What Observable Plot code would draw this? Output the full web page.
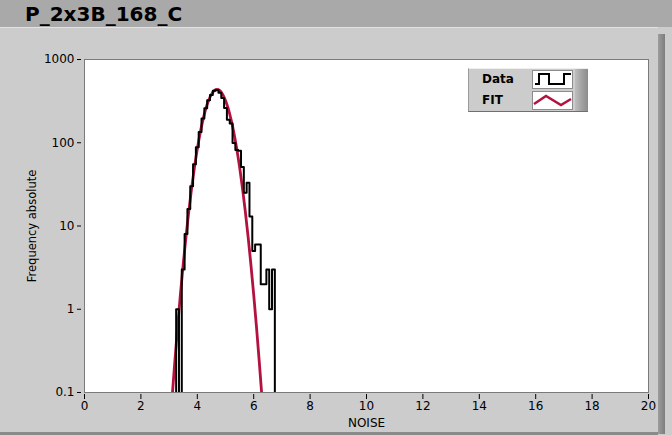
<!DOCTYPE html>
<html>
<head>
<meta charset="utf-8">
<script src="https://cdn.jsdelivr.net/npm/d3@7"></script>
<script src="https://cdn.jsdelivr.net/npm/@observablehq/plot@0.6"></script>
<style>
  html, body { margin: 0; padding: 0; }
  body { width: 672px; height: 435px; position: relative; overflow: hidden; background: #cccccc; font-family: "DejaVu Sans", sans-serif; }
  #titlebar { position: absolute; left: 0; top: 0; width: 672px; height: 27px; background: #a9a9a9; }
  #title { position: absolute; left: 25px; top: 1px; font: bold 20px "DejaVu Sans", sans-serif; color: #000; line-height: 26px; }
  #panel { position: absolute; left: 0; top: 27px; width: 658px; height: 404px; background: #cccccc; border-top: 1px solid #e2e2e2; border-bottom: 3px solid #8a8a8a; }
  #rband { position: absolute; left: 658px; top: 34px; width: 7px; height: 400px; background: linear-gradient(to right, #9c9c9c, #7d7d7d); }
  #chart { position: absolute; left: 0; top: 0; }
  #legend { position: absolute; left: 468px; top: 68px; width: 120px; height: 44px; background: #cccccc;
            box-sizing: border-box; border-top: 1px solid #eeeeee; border-left: 1px solid #9a9a9a; border-bottom: 1px solid #6f6f6f; }
  .lrow { position: absolute; left: 0; width: 106px; height: 22px; }
  .ltext { position: absolute; left: 13px; top: 3px; font: bold 12px "DejaVu Sans", sans-serif; color: #000; }
  .lsw { position: absolute; left: 63px; top: 1px; width: 41px; height: 19px; background: #fff; box-sizing: border-box; border: 1px solid #8c8c8c; }
  #lband { position: absolute; left: 106px; top: 0; width: 13px; height: 42px; background: linear-gradient(to right, #bdbdbd, #a3a3a3 50%, #8c8c8c); }
</style>
</head>
<body>
<div id="titlebar"><div id="title">P_2x3B_168_C</div></div>
<div id="panel"></div>
<div id="rband"></div>
<div id="chart"></div>
<div id="legend">
  <div class="lrow" style="top:0px">
    <div class="ltext">Data</div>
    <div class="lsw"><svg width="39" height="17"><path d="M2,13H6V3H16V13H31V3H38" fill="none" stroke="#000" stroke-width="2"/></svg></div>
  </div>
  <div class="lrow" style="top:21px">
    <div class="ltext">FIT</div>
    <div class="lsw"><svg width="39" height="17"><path d="M1,12L13,4L28,13L38,7" fill="none" stroke="#b3123f" stroke-width="2.5"/></svg></div>
  </div>
  <div id="lband"></div>
</div>
<script>
// ---- data ----
const binCenters = [3.3, 3.4, 3.5, 3.6, 3.7, 3.8, 3.9, 4.0, 4.1, 4.2, 4.3, 4.4, 4.5, 4.6, 4.7, 4.8, 4.9, 5.0,
                    5.1, 5.2, 5.3, 5.4, 5.5, 5.6, 5.7, 5.8, 5.9, 6.0, 6.1, 6.2, 6.3, 6.4, 6.5, 6.6, 6.7];
const binCounts  = [1, 0, 3, 8, 16, 30, 55, 88, 135, 195, 260, 325, 375, 420, 430, 400, 345, 262,
                    189, 170, 99, 82, 80, 51, 25, 33, 13, 5, 6, 6, 2, 2, 3, 1, 3];
const binWidth = 0.1;

const fitX = [3.0, 3.1, 3.2, 3.3, 3.4, 3.5, 3.6, 3.7, 3.8, 3.9, 4.0, 4.1, 4.2, 4.3, 4.4, 4.5, 4.6, 4.7,
              4.8, 4.9, 5.0, 5.1, 5.2, 5.3, 5.4, 5.5, 5.6, 5.7, 5.8, 5.9, 6.0, 6.1, 6.2, 6.3, 6.4];
const fitY = [0.027, 0.081, 0.229, 0.607, 1.50, 3.47, 7.52, 15.2, 28.8, 50.9, 84.2, 130, 188, 255, 322, 381, 422, 436,
              422, 381, 322, 255, 188, 130, 84.2, 50.9, 28.8, 15.2, 7.52, 3.47, 1.50, 0.607, 0.229, 0.081, 0.027];

const xTicks = [0, 2, 4, 6, 8, 10, 12, 14, 16, 18, 20];
const yTicks = [0.1, 1, 10, 100, 1000];
const yTickLabels = ["0.1", "1", "10", "100", "1000"];
const xLabel = "NOISE";
const yLabel = "Frequency absolute";

// ---- build step outline (zero counts drop below the axis floor) ----
const FLOOR = 0.001;
const steps = [];
steps.push({x: binCenters[0] - binWidth / 2, y: FLOOR});
binCenters.forEach((c, i) => steps.push({x: c - binWidth / 2, y: binCounts[i] > 0 ? binCounts[i] : FLOOR}));
const last = binCenters.length - 1;
steps.push({x: binCenters[last] + binWidth / 2, y: binCounts[last]});
steps.push({x: binCenters[last] + binWidth / 2, y: FLOOR});

const fit = fitX.map((x, i) => ({x, y: fitY[i]}));

const chart = Plot.plot({
  width: 672,
  height: 435,
  marginLeft: 84,
  marginRight: 24,
  marginTop: 59,
  marginBottom: 43,
  style: {background: "transparent", fontFamily: "DejaVu Sans, sans-serif", fontSize: "12px", color: "#000"},
  x: {domain: [0, 20]},
  y: {type: "log", domain: [0.1, 1000]},
  marks: [
    Plot.frame({fill: "#ffffff", stroke: "#7a7a7a"}),
    Plot.line(fit, {x: "x", y: "y", stroke: "#b3123f", strokeWidth: 2.8, curve: "catmull-rom", clip: true}),
    Plot.line(steps, {x: "x", y: "y", stroke: "#000", strokeWidth: 2, curve: "step-after", clip: true}),
    Plot.axisY({ticks: yTicks, tickFormat: (d) => yTickLabels[yTicks.indexOf(d)], tickSize: 4, tickPadding: 3, dx: -3, label: null}),
    Plot.axisX({ticks: xTicks, tickSize: 5, tickPadding: 2, dy: 2, label: null}),
    Plot.text([yLabel], {frameAnchor: "left", text: (d) => d, rotate: -90, dx: -52, fontSize: 11.5, textAnchor: "middle", lineAnchor: "middle"}),
    Plot.text([xLabel], {frameAnchor: "bottom", text: (d) => d, dy: 31, fontSize: 12, textAnchor: "middle", lineAnchor: "middle"})
  ]
});
document.getElementById("chart").appendChild(chart);
</script>
</body>
</html>
